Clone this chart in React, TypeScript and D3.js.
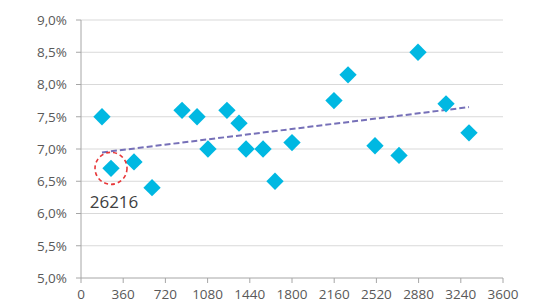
import React from 'react'
import * as d3 from 'd3'

// values (x: count, y: percent)
const xValues = [179, 256, 452, 606, 862, 990, 1083, 1245, 1348, 1408, 1553, 1655, 1800, 2158, 2278, 2508, 2713, 2875, 3114, 3310]
const yValues = [7.5, 6.7, 6.8, 6.4, 7.6, 7.5, 7.0, 7.6, 7.4, 7.0, 7.0, 6.5, 7.1, 7.75, 8.15, 7.05, 6.9, 8.5, 7.7, 7.25]
const xTicks = [0, 360, 720, 1080, 1440, 1800, 2160, 2520, 2880, 3240, 3600]
const yTicks = [5.0, 5.5, 6.0, 6.5, 7.0, 7.5, 8.0, 8.5, 9.0]
const highlightIndex = 1
const highlightLabel = '26216'

const W = 535
const H = 305
const margin = {left: 81, right: 32, top: 20, bottom: 27}

const fmtPct = (v: number) => d3.format('.1f')(v).replace('.', ',') + '%'

export default function App() {
	const x = d3.scaleLinear().domain([0, 3600]).range([margin.left, W - margin.right])
	const y = d3.scaleLinear().domain([5, 9]).range([H - margin.bottom, margin.top])

	// least squares trend line over data range
	const mx = d3.mean(xValues) as number
	const my = d3.mean(yValues) as number
	let sxy = 0, sxx = 0
	xValues.forEach((v, i) => {
		sxy += (v - mx) * (yValues[i] - my)
		sxx += (v - mx) * (v - mx)
	})
	const slope = sxy / sxx
	const icpt = my - slope * mx
	const [x0, x1] = d3.extent(xValues) as [number, number]

	const diamond = d3.symbol(d3.symbolSquare, 150)()
	const font = '"Open Sans", sans-serif'

	return (
		<svg width={W} height={H} style={{position: 'absolute', left: 0, top: 0}} fontFamily={font}>
			<rect width={W} height={H} fill="#fff"/>
			{yTicks.map((t) => (
				<g key={`y-${t}`}>
					{t > 5 && <line x1={x(0)} x2={x(3600)} y1={y(t)} y2={y(t)} stroke="#d9d9d9" strokeWidth={1.2}/>}
					<line x1={x(0) - 5} x2={x(0)} y1={y(t)} y2={y(t)} stroke="#a6a6a6"/>
					<text x={x(0) - 14} y={y(t)} dy="0.36em" textAnchor="end" fontSize={13.5} fill="#595959">{fmtPct(t)}</text>
				</g>
			))}
			<line x1={x(0)} x2={x(0)} y1={y(9)} y2={y(5)} stroke="#a6a6a6"/>
			<line x1={x(0)} x2={x(3600)} y1={y(5)} y2={y(5)} stroke="#a6a6a6"/>
			{xTicks.map((t) => (
				<g key={`x-${t}`}>
					<line x1={x(t)} x2={x(t)} y1={y(5)} y2={y(5) + 5} stroke="#a6a6a6"/>
					<text x={x(t)} y={y(5) + 21} textAnchor="middle" fontSize={13.5} fill="#595959">{t}</text>
				</g>
			))}
			<line
				x1={x(x0)} y1={y(icpt + slope * x0)}
				x2={x(x1)} y2={y(icpt + slope * x1)}
				stroke="#7670b8" strokeWidth={2} strokeDasharray="6,3"
			/>
			{xValues.map((v, i) => (
				<path
					key={`pt-${i}`}
					d={diamond as string}
					transform={`translate(${x(v)},${y(yValues[i])}) rotate(45)`}
					fill="#00b8e2"
				/>
			))}
			<circle
				cx={x(xValues[highlightIndex])} cy={y(yValues[highlightIndex])} r={16}
				fill="none" stroke="#e8383a" strokeWidth={1.6} strokeDasharray="4,3"
			/>
			<text
				x={x(xValues[highlightIndex]) + 3} y={y(yValues[highlightIndex]) + 40}
				textAnchor="middle" fontSize={17} fill="#404040"
			>{highlightLabel}</text>
		</svg>
	)
}
